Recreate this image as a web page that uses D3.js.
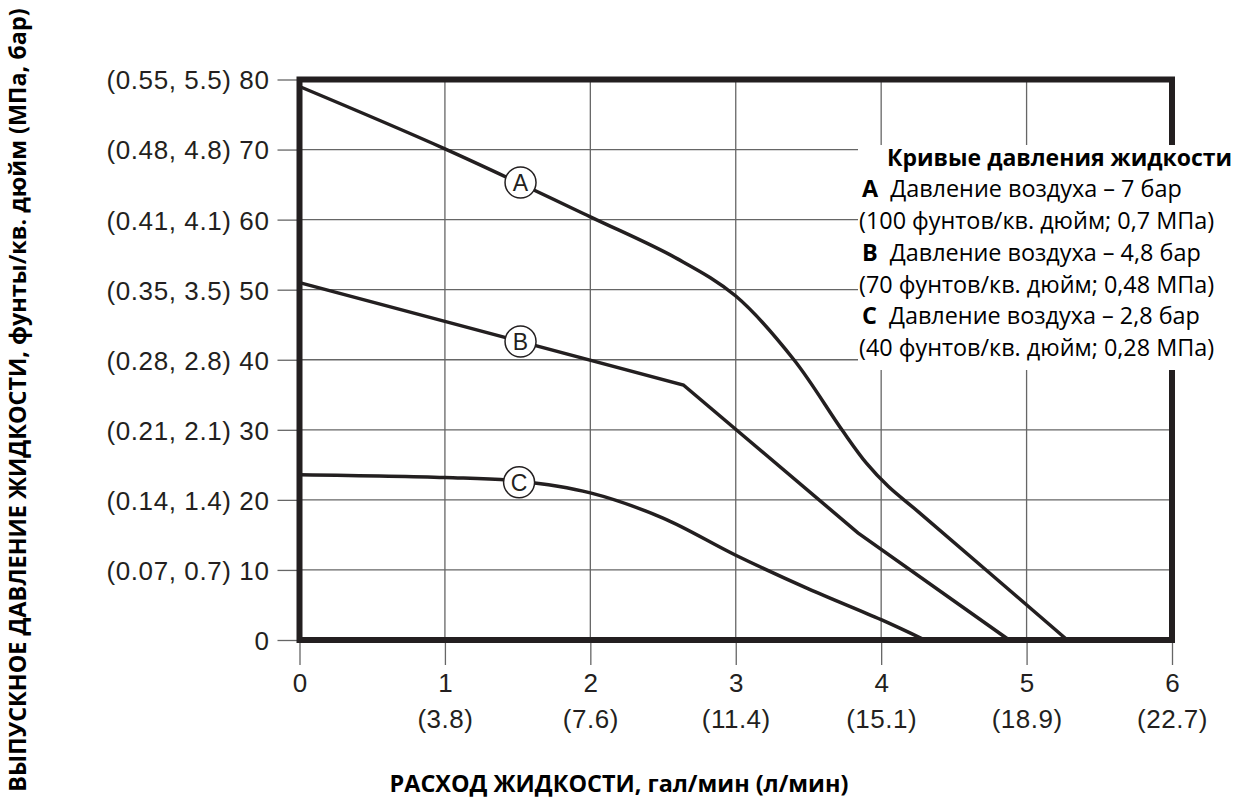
<!DOCTYPE html>
<html>
<head>
<meta charset="utf-8">
<script src="https://cdn.jsdelivr.net/npm/d3@7"></script>
<style>
  body { margin: 0; background: #fff; }
  svg { display: block; }
</style>
</head>
<body>
<div id="chart"></div>
<script>

// flow, gal/min
var flowTicks = [0, 1, 2, 3, 4, 5, 6];
var flowLitres = ["", "(3.8)", "(7.6)", "(11.4)", "(15.1)", "(18.9)", "(22.7)"];

// pressure, psi
var pressureTicks = [0, 10, 20, 30, 40, 50, 60, 70, 80];
var pressureMetric = ["", "(0.07, 0.7)", "(0.14, 1.4)", "(0.21, 2.1)", "(0.28, 2.8)",
  "(0.35, 3.5)", "(0.41, 4.1)", "(0.48, 4.8)", "(0.55, 5.5)"];

// curves [flow, psi]
var curveA = [[0, 79], [1, 70.1], [2, 60.4], [2.6, 54.4], [3, 49.1], [3.4, 40],
  [3.73, 30], [3.9, 25.2], [4.05, 21.9], [4.25, 18.4], [5.28, 0]];
var curveB = [[0, 51], [2.64, 36.4], [3.84, 15.3], [4.88, 0]];
var curveC = [[0, 23.6], [1, 23.2], [1.5, 22.7], [2, 21.0], [2.5, 17.4],
  [3, 12.1], [3.5, 7.3], [4, 2.9], [4.3, 0]];

var curveNames = ["A", "B", "C"];
var curveLabelAt = [[1.52, 65.3], [1.52, 42.6], [1.51, 22.5]];

var legendTitle = "Кривые давления жидкости";
var legendAir = ["Давление воздуха – 7 бар", "Давление воздуха – 4,8 бар", "Давление воздуха – 2,8 бар"];
var legendUnits = ["(100 фунтов/кв. дюйм; 0,7 МПа)", "(70 фунтов/кв. дюйм; 0,48 МПа)", "(40 фунтов/кв. дюйм; 0,28 МПа)"];

var xTitle = "РАСХОД ЖИДКОСТИ, гал/мин (л/мин)";
var yTitle = "ВЫПУСКНОЕ ДАВЛЕНИЕ ЖИДКОСТИ, фунты/кв. дюйм (МПа, бар)";

var ink = "#231f20";
var labelFont = "'Liberation Sans', Arial, sans-serif";
var textFont = "'Open Sans', 'Noto Sans', sans-serif";

var svg = d3.select("#chart").append("svg")
  .attr("width", 1239)
  .attr("height", 800);

var x = d3.scaleLinear().domain([0, 6]).range([299.5, 1172]);
var y = d3.scaleLinear().domain([0, 80]).range([640, 79.5]);

// grid
svg.append("g").selectAll("line")
  .data(flowTicks)
  .enter().append("line")
  .attr("x1", function(d) { return x(d); })
  .attr("x2", function(d) { return x(d); })
  .attr("y1", y(80))
  .attr("y2", y(0))
  .attr("stroke", "#666")
  .attr("stroke-width", 1.3);

svg.append("g").selectAll("line")
  .data(pressureTicks)
  .enter().append("line")
  .attr("x1", x(0))
  .attr("x2", x(6))
  .attr("y1", function(d) { return y(d); })
  .attr("y2", function(d) { return y(d); })
  .attr("stroke", "#666")
  .attr("stroke-width", 1.3);

// y axis
var yAxis = d3.axisLeft(y)
  .tickValues(pressureTicks)
  .tickSize(22)
  .tickPadding(8)
  .tickFormat(function(d, i) {
    return (pressureMetric[i] ? pressureMetric[i] + " " : "") + d;
  });

var gy = svg.append("g")
  .attr("transform", "translate(" + x(0) + ",0)")
  .call(yAxis);
gy.select(".domain").remove();
gy.selectAll(".tick line").attr("stroke", "#666").attr("stroke-width", 1.3);
gy.selectAll(".tick text")
  .attr("dy", "0.36em")
  .style("font-family", labelFont)
  .style("font-size", "26px")
  .style("letter-spacing", "0.6px")
  .attr("fill", ink);

// x axis
var xAxis = d3.axisBottom(x)
  .tickValues(flowTicks)
  .tickSize(25)
  .tickFormat("");

var gx = svg.append("g")
  .attr("transform", "translate(0," + y(0) + ")")
  .call(xAxis);
gx.select(".domain").remove();
gx.selectAll(".tick line").attr("stroke", "#666").attr("stroke-width", 1.3);

gx.selectAll(".tick").append("text")
  .attr("y", 52)
  .attr("text-anchor", "middle")
  .style("font-family", labelFont)
  .style("font-size", "26px")
  .attr("fill", ink)
  .text(function(d) { return d; });

gx.selectAll(".tick").append("text")
  .attr("y", 88)
  .attr("text-anchor", "middle")
  .style("font-family", labelFont)
  .style("font-size", "26px")
  .style("letter-spacing", "0.5px")
  .attr("fill", ink)
  .text(function(d, i) { return flowLitres[i]; });

// curves
var line = d3.line()
  .x(function(d) { return x(d[0]); })
  .y(function(d) { return y(d[1]); });

svg.append("path")
  .attr("d", line.curve(d3.curveCatmullRom.alpha(0.5))(curveA))
  .attr("fill", "none")
  .attr("stroke", ink)
  .attr("stroke-width", 3.5);

svg.append("path")
  .attr("d", line.curve(d3.curveLinear)(curveB))
  .attr("fill", "none")
  .attr("stroke", ink)
  .attr("stroke-width", 3.5)
  .attr("stroke-linejoin", "miter");

svg.append("path")
  .attr("d", line.curve(d3.curveCatmullRom.alpha(0.5))(curveC))
  .attr("fill", "none")
  .attr("stroke", ink)
  .attr("stroke-width", 3.5);

// frame
svg.append("rect")
  .attr("x", x(0))
  .attr("y", y(80))
  .attr("width", x(6) - x(0))
  .attr("height", y(0) - y(80))
  .attr("fill", "none")
  .attr("stroke", ink)
  .attr("stroke-width", 6);

// curve labels
var tags = svg.append("g").selectAll("g")
  .data(curveLabelAt)
  .enter().append("g")
  .attr("transform", function(d) { return "translate(" + x(d[0]) + "," + y(d[1]) + ")"; });

tags.append("circle")
  .attr("r", 15.5)
  .attr("fill", "#fff")
  .attr("stroke", ink)
  .attr("stroke-width", 1.5);

tags.append("text")
  .attr("text-anchor", "middle")
  .attr("dy", "0.36em")
  .style("font-family", labelFont)
  .style("font-size", "23px")
  .attr("fill", ink)
  .text(function(d, i) { return curveNames[i]; });

// legend
svg.append("rect")
  .attr("x", 858)
  .attr("y", 145)
  .attr("width", 381)
  .attr("height", 225)
  .attr("fill", "#fff");

var legend = svg.append("g")
  .style("font-family", textFont)
  .style("font-size", "23.4px")
  .attr("fill", "#000");

legend.append("text")
  .attr("x", 887)
  .attr("y", 166)
  .style("font-size", "23px")
  .style("font-weight", "bold")
  .text(legendTitle);

curveNames.forEach(function(name, i) {
  var t = legend.append("text")
    .attr("x", 862)
    .attr("y", 197 + i * 63.6);
  t.append("tspan").style("font-weight", "bold").text(name);
  t.append("tspan").attr("dx", 12).text(legendAir[i]);

  legend.append("text")
    .attr("x", 859)
    .attr("y", 229 + i * 63.6)
    .text(legendUnits[i]);
});

// axis titles
svg.append("text")
  .attr("x", 619)
  .attr("y", 792)
  .attr("text-anchor", "middle")
  .style("font-family", textFont)
  .style("font-size", "23.4px")
  .style("font-weight", "bold")
  .attr("fill", "#000")
  .text(xTitle);

svg.append("text")
  .attr("transform", "translate(26,400) rotate(-90)")
  .attr("text-anchor", "middle")
  .style("font-family", textFont)
  .style("font-size", "23.4px")
  .style("font-weight", "bold")
  .attr("fill", "#000")
  .text(yTitle);

</script>
</body>
</html>
